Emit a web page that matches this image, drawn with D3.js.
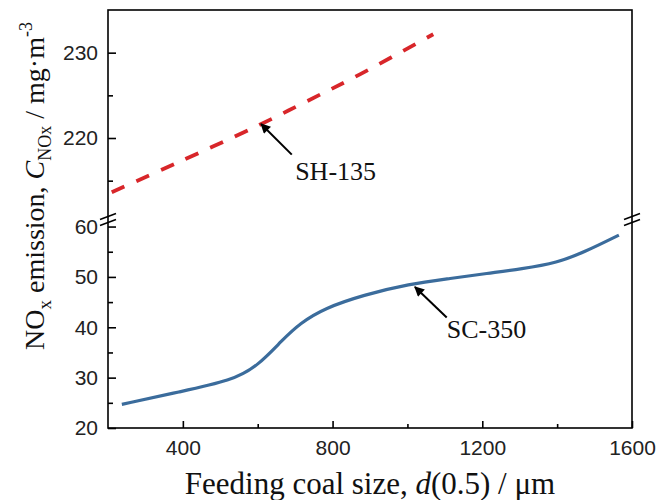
<!DOCTYPE html>
<html>
<head>
<meta charset="utf-8">
<script src="https://cdn.jsdelivr.net/npm/d3@7"></script>
<style>
  body { margin: 0; background: #fff; }
  svg { display: block; }
</style>
</head>
<body>
<svg id="chart" width="656" height="500"></svg>
<script>
// ---- data ----
const xTicksMajor = [400, 800, 1200, 1600];
const xTicksMinor = [600, 1000, 1400];
const yLowTicksMajor = [20, 30, 40, 50, 60];
const yLowTicksMinor = [25, 35, 45, 55];
const yHighTicksMajor = [220, 230];
const yHighTicksMinor = [215, 225];

const sc350X = [237, 392, 530, 600, 666, 713, 779, 882, 1004, 1117, 1212, 1306, 1400, 1475, 1565];
const sc350Y = [24.7, 27.2, 29.4, 32.3, 37.5, 40.8, 43.8, 46.4, 48.6, 49.7, 50.7, 51.6, 52.8, 55.0, 58.3];

const sh135X = [210, 383, 597, 731, 873, 1069];
const sh135Y = [213.65, 217.06, 221.38, 224.3, 227.46, 232.16];

const labels = { sh: "SH-135", sc: "SC-350" };

// ---- layout ----
const svg = d3.select("#chart");
const L = 108, R = 632, T = 10, B = 428, BRK = 219.5;

const x = d3.scaleLinear().domain([200, 1600]).range([L, R]);
const yLow = d3.scaleLinear().domain([20, 61.4]).range([B, BRK]);
const yHigh = d3.scaleLinear().domain([210.45, 235]).range([BRK, T]);

const tickFont = "'Liberation Sans', Arial, sans-serif";
const serif = "'Liberation Serif', 'Times New Roman', serif";

function styleAxis(g) {
  g.select(".domain").remove();
  g.selectAll("line").attr("stroke", "#000").attr("stroke-width", 1.6);
  g.selectAll("text").attr("font-family", tickFont).attr("font-size", 21).attr("fill", "#222");
}

svg.append("g").attr("transform", `translate(0,${B})`)
  .call(d3.axisBottom(x).tickValues(xTicksMajor).tickSize(-7).tickPadding(12).tickFormat(d3.format("d")))
  .call(styleAxis);
svg.append("g").attr("transform", `translate(0,${B})`)
  .call(d3.axisBottom(x).tickValues(xTicksMinor).tickSize(-4).tickFormat(""))
  .call(styleAxis);

svg.append("g").attr("transform", `translate(${L},0)`)
  .call(d3.axisLeft(yLow).tickValues(yLowTicksMajor).tickSize(-8).tickPadding(10).tickFormat(d3.format("d")))
  .call(styleAxis);
svg.append("g").attr("transform", `translate(${L},0)`)
  .call(d3.axisLeft(yLow).tickValues(yLowTicksMinor).tickSize(-5).tickFormat(""))
  .call(styleAxis);
svg.append("g").attr("transform", `translate(${L},0)`)
  .call(d3.axisLeft(yHigh).tickValues(yHighTicksMajor).tickSize(-8).tickPadding(10).tickFormat(d3.format("d")))
  .call(styleAxis);
svg.append("g").attr("transform", `translate(${L},0)`)
  .call(d3.axisLeft(yHigh).tickValues(yHighTicksMinor).tickSize(-5).tickFormat(""))
  .call(styleAxis);

// frame
svg.append("rect").attr("x", L).attr("y", T).attr("width", R - L).attr("height", B - T)
  .attr("fill", "none").attr("stroke", "#000").attr("stroke-width", 1.6);

// break marks
[L, R].forEach(bx => {
  [-3, 3].forEach(off => {
    svg.append("line")
      .attr("x1", bx - 8).attr("y1", BRK + off + 3)
      .attr("x2", bx + 8).attr("y2", BRK + off - 3)
      .attr("stroke", "#000").attr("stroke-width", 1.6);
  });
});

// series
const sc = sc350X.map((v, i) => [v, sc350Y[i]]);
const sh = sh135X.map((v, i) => [v, sh135Y[i]]);

svg.append("path").datum(sc)
  .attr("d", d3.line().x(d => x(d[0])).y(d => yLow(d[1])).curve(d3.curveBasis))
  .attr("fill", "none").attr("stroke", "#3b6c9c").attr("stroke-width", 3.2);

svg.append("path").datum(sh)
  .attr("d", d3.line().x(d => x(d[0])).y(d => yHigh(d[1])).curve(d3.curveCatmullRom.alpha(0.5)))
  .attr("fill", "none").attr("stroke", "#d8262a").attr("stroke-width", 3.8)
  .attr("stroke-dasharray", "14,13");

// arrows
const defs = svg.append("defs");
defs.append("marker").attr("id", "arr").attr("viewBox", "0 0 10 10")
  .attr("refX", 9).attr("refY", 5).attr("markerWidth", 6).attr("markerHeight", 5)
  .attr("orient", "auto").attr("markerUnits", "strokeWidth")
  .append("path").attr("d", "M0,0 L10,5 L0,10 z").attr("fill", "#000");

svg.append("line")
  .attr("x1", x(691)).attr("y1", yHigh(218.05)).attr("x2", x(609)).attr("y2", yHigh(221.65))
  .attr("stroke", "#000").attr("stroke-width", 2).attr("marker-end", "url(#arr)");
svg.append("line")
  .attr("x1", x(1105)).attr("y1", yLow(41.95)).attr("x2", x(1020)).attr("y2", yLow(48.0))
  .attr("stroke", "#000").attr("stroke-width", 2).attr("marker-end", "url(#arr)");

svg.append("text").attr("x", x(700)).attr("y", yHigh(215.1))
  .attr("font-family", serif).attr("font-size", 26).attr("fill", "#111").text(labels.sh);
svg.append("text").attr("x", x(1105)).attr("y", yLow(37.8))
  .attr("font-family", serif).attr("font-size", 26).attr("fill", "#111").text(labels.sc);

// x axis title
const xt = svg.append("text").attr("x", 370).attr("y", 494).attr("text-anchor", "middle")
  .attr("font-family", serif).attr("font-size", 31).attr("fill", "#111");
xt.append("tspan").text("Feeding coal size, ");
xt.append("tspan").attr("font-style", "italic").text("d");
xt.append("tspan").text("(0.5) / μm");

// y axis title
const yt = svg.append("text").attr("transform", "translate(44,186) rotate(-90)")
  .attr("text-anchor", "middle").attr("font-family", serif).attr("font-size", 28).attr("fill", "#111");
yt.append("tspan").text("NO");
yt.append("tspan").attr("font-size", 19).attr("dy", 7).text("x");
yt.append("tspan").attr("dy", -7).text(" emission, ");
yt.append("tspan").attr("font-style", "italic").text("C");
yt.append("tspan").attr("font-size", 18).attr("dy", 7).text("NOx");
yt.append("tspan").attr("dy", -7).text(" / mg·m");
yt.append("tspan").attr("font-size", 18).attr("dy", -12).text("-3");
</script>
</body>
</html>
